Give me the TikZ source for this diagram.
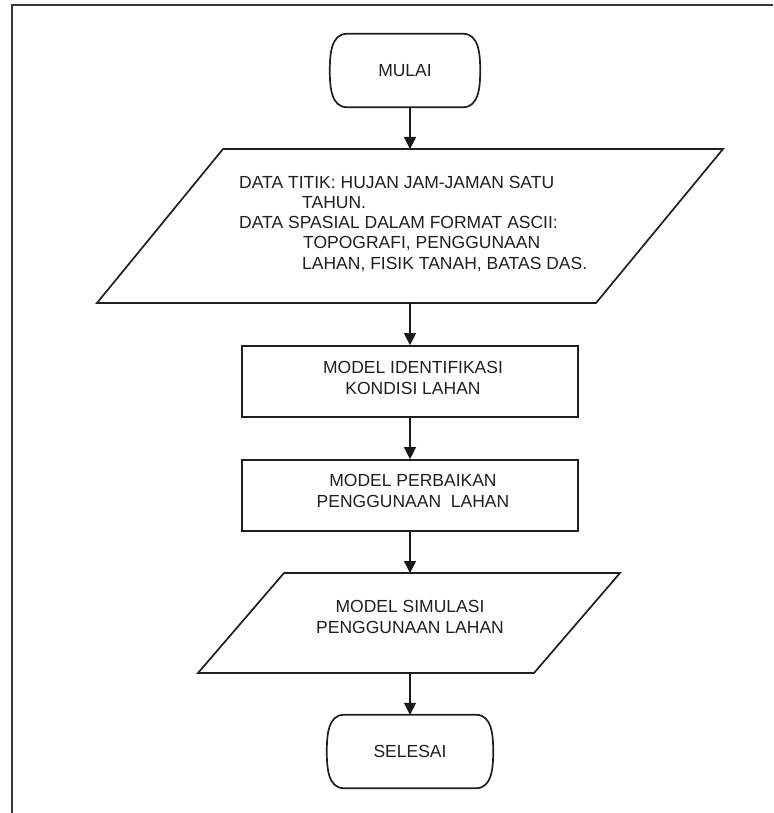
\documentclass[tikz,border=0pt]{standalone}
\usepackage{fontspec}
\setmainfont{Liberation Sans}
\usetikzlibrary{arrows.meta}

% Outline of a start/stop terminal: flat top and bottom, bulging sides.
% #1 = node name, #2 = horizontal inset of the flat edges
\newcommand\termoutline[2]{%
  \draw[shapeline] ([xshift=#2]#1.north west) -- ([xshift=-#2]#1.north east)
    to[out=0,in=90] (#1.east) to[out=-90,in=0] ([xshift=-#2]#1.south east)
    -- ([xshift=#2]#1.south west) to[out=180,in=-90] (#1.west)
    to[out=90,in=180] ([xshift=#2]#1.north west) -- cycle;}

\begin{document}
\begin{tikzpicture}[x=1pt,y=1pt,
  shapeline/.style={draw=black!88, line width=1.7pt, line join=miter},
  framed/.style={draw=black!78, line width=2.6pt},
  flow/.style={draw=black!90, line width=1.3pt, -{Triangle[length=12pt,width=12pt]}},
  label font/.style={font=\fontsize{17.5}{20.25}\selectfont, text=black!88, inner sep=0pt},
  terminal/.style={rectangle, draw=none, inner sep=0pt, label font},
  process/.style={rectangle, shapeline, inner sep=0pt},
  boxtext/.style={label font, align=center}
]
\useasboundingbox (0,0) rectangle (773,-813);

% page frame (top and left edges)
\draw[framed] (773,-5) -- (12,-5) -- (12,-813);

% start terminal
\node[terminal, minimum width=150pt, minimum height=73pt] (mulai) at (405,-70.5) {MULAI};
\termoutline{mulai}{17pt}

% input data (parallelogram)
\coordinate (in1nw) at (223,-149);
\coordinate (in1ne) at (723,-149);
\coordinate (in1se) at (596,-303);
\coordinate (in1sw) at (97,-303);
\coordinate (in1n) at (410,-149);
\coordinate (in1s) at (410,-303);
\draw[shapeline] (in1nw) -- (in1ne) -- (in1se) -- (in1sw) -- cycle;
\node[label font, align=left, anchor=north west] (in1text) at (239,-175.8)
  {DATA TITIK: HUJAN JAM-JAMAN SATU\\
   \hspace*{63pt}TAHUN.\\
   DATA SPASIAL DALAM FORMAT ASCII:\\
   \hspace*{64pt}TOPOGRAFI, PENGGUNAAN\\
   \hspace*{63pt}LAHAN, FISIK TANAH, BATAS DAS.};

% process: land condition identification
\node[process, minimum width=336pt, minimum height=71pt] (ident) at (410,-381.5) {};
\node[boxtext] (identtext) at (413,-378) {MODEL IDENTIFIKASI\\KONDISI LAHAN};

% process: land use improvement
\node[process, minimum width=336pt, minimum height=71pt] (perb) at (410,-495.5) {};
\node[boxtext] (perbtext) at (413,-491) {MODEL PERBAIKAN\\PENGGUNAAN\ \ LAHAN};

% output: land use simulation (parallelogram)
\coordinate (simnw) at (284,-573);
\coordinate (simne) at (620,-573);
\coordinate (simse) at (534,-673);
\coordinate (simsw) at (198,-673);
\coordinate (simn) at (410,-573);
\coordinate (sims) at (410,-673);
\draw[shapeline] (simnw) -- (simne) -- (simse) -- (simsw) -- cycle;
\node[boxtext] (simtext) at (410,-617) {MODEL SIMULASI\\PENGGUNAAN LAHAN};

% end terminal
\node[terminal, minimum width=166pt, minimum height=73pt] (selesai) at (410,-751.5) {SELESAI};
\termoutline{selesai}{17pt}

% flow connectors
\draw[flow] (mulai.south -| in1n) -- (in1n);
\draw[flow] (in1s) -- (ident.north);
\draw[flow] (ident.south) -- (perb.north);
\draw[flow] (perb.south) -- (simn);
\draw[flow] (sims) -- (selesai.north);
\end{tikzpicture}
\end{document}
